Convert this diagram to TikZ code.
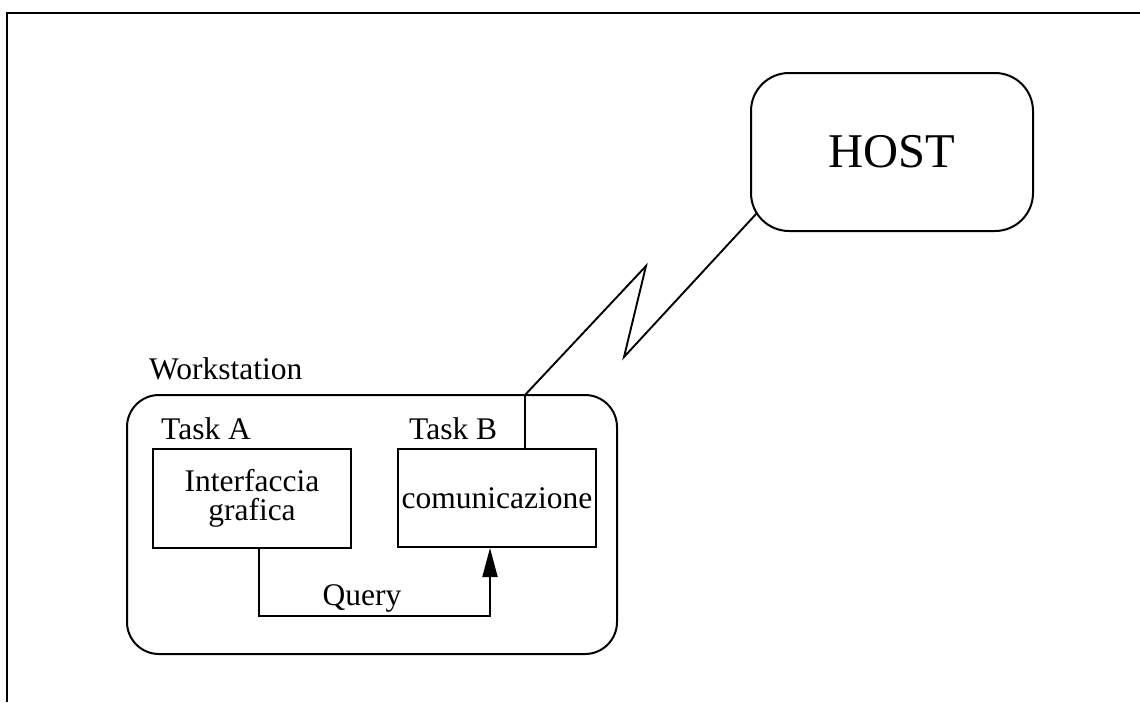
\documentclass[tikz,border=0pt]{standalone}
\usepackage{fontspec}
\setmainfont{Liberation Serif}
\usetikzlibrary{arrows.meta}
\begin{document}
\begin{tikzpicture}[x=1pt,y=-1pt,
  boxline/.style={line width=2pt},
  taskbox/.style={boxline,draw,rectangle,inner sep=0pt,align=center,
    font=\fontsize{31.5}{28.5}\selectfont},
  lbl/.style={inner sep=0pt,anchor=base west,font=\fontsize{31.5}{31.5}\selectfont},
  conn/.style={line width=1.9pt}]
\useasboundingbox (0,0) rectangle (1140,702);
% frame
\draw[line width=2.4pt] (1140,13) -- (7,13) -- (7,702);
% host
\node[boxline,draw,rectangle,rounded corners=38pt,minimum width=282pt,minimum height=158pt,
  inner sep=0pt,font=\fontsize{48.5}{48.5}\selectfont] (host) at (892,152) {HOST};
% workstation
\node[boxline,draw,rectangle,rounded corners=32pt,minimum width=490pt,minimum height=259pt]
  (ws) at (372,524.5) {};
\node[lbl] (wslabel) at (149,379) {Workstation};
\node[lbl] (talabel) at (161,439) {Task A};
\node[lbl] (tblabel) at (409,439) {Task B};
\node[taskbox,minimum width=198pt,minimum height=99pt] (ta) at (252,498.5) {Interfaccia\\grafica};
\node[taskbox,minimum width=198pt,minimum height=98pt] (tb) at (497,498) {comunicazione};
% query arrow
\coordinate (qbend) at (259,616);
\coordinate (qend) at (490,616);
\draw[conn,-{Triangle[length=29pt,width=15pt]}] (ta.south -| qbend) -- (qbend) -- (qend) -- (tb.south -| qend);
\node[inner sep=0pt,anchor=base,font=\fontsize{31.5}{31.5}\selectfont] (query) at (362,605) {Query};
% lightning link
\coordinate (z1) at (525,395);
\coordinate (z2) at (646,266);
\coordinate (z3) at (624,357);
\coordinate (hc) at (757,213);
\draw[conn] (tb.north -| z1) -- (z1) -- (z2) -- (z3) -- (hc);
\end{tikzpicture}
\end{document}
